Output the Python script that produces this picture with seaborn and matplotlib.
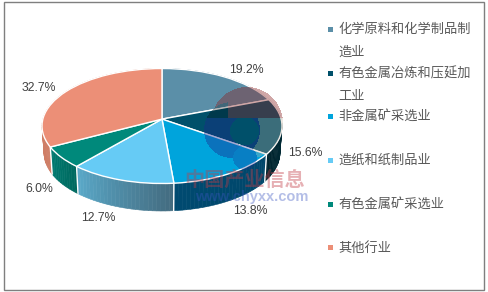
import numpy as np
import matplotlib
matplotlib.use('Agg')
import matplotlib.pyplot as plt
import seaborn as sns
from matplotlib.patches import Rectangle
from matplotlib.transforms import Transform

# datos
categorias = ['化学原料和化学制品制\n造业', '有色金属冶炼和压延加\n工业', '非金属矿采选业',
              '造纸和纸制品业', '有色金属矿采选业', '其他行业']
valores = [19.2, 15.6, 13.8, 12.7, 6.0, 32.7]
colores = ['#5b8fa8', '#00506a', '#00a4dc', '#66cbf5', '#00897b', '#ec8f77']
lados = [('#4a7a90', '#3f6c80'), ('#00242e', '#00303c'), ('#004a70', '#00466a'),
         ('#5aa8c8', '#436c80'), ('#007a70', '#00695f'), ('#cf7e66', '#cf7e66')]

sns.set_theme(style='white')
plt.rcParams['font.family'] = ['Liberation Sans', 'Noto Sans CJK SC']

# geometria de la tarta en pixeles
CX, CY, RX, RY, APEX = 162, 126, 120, 57.5, 0.12
BY, BRX, BRY = 153, 118, 58


def perspectiva(v):
    x, y = v[:, 0], v[:, 1]
    d = 1 + APEX * y
    return np.sqrt(1 - APEX ** 2) * x / d, (y + APEX) / d


class Tarta(Transform):
    input_dims = output_dims = 2

    def transform_non_affine(self, values):
        x, y = perspectiva(np.asarray(values, float))
        return np.column_stack([CX + RX * x, CY - RY * y])


fig = plt.figure(figsize=(4.88, 2.92), dpi=100)
ax = fig.add_axes([0, 0, 1, 1])

wedges, _ = ax.pie(valores, colors=colores, startangle=90, counterclock=False,
                   wedgeprops={'edgecolor': 'white', 'linewidth': 1.0})
for w in wedges:
    w.set_transform(Tarta() + ax.transData)
    w.set_zorder(3)

# pared lateral, en tiras con degradado
inicio = 0
for v, par in zip(valores, lados):
    n = max(int(v * 2), 2)
    ang = np.radians(90 - np.linspace(inicio, inicio + v, n + 1) * 3.6)
    ux, uy = perspectiva(np.column_stack([np.cos(ang), np.sin(ang)]))
    xt, yt = CX + RX * ux, CY - RY * uy
    xb, yb = CX + BRX * ux, BY - BRY * uy
    # el degradado va de izquierda a derecha en pantalla
    pal = sns.blend_palette(par, n)
    if xt[0] > xt[-1]:
        pal = pal[::-1]
    for i in range(n):
        ax.fill([xt[i], xt[i + 1], xb[i + 1], xb[i]], [yt[i], yt[i + 1], yb[i + 1], yb[i]],
                color=pal[i], lw=0.4, zorder=1)
    if uy[-1] < 0:
        ax.plot([xt[-1], xb[-1]], [yt[-1], yb[-1]], color='white', lw=1.0, zorder=2)
    inicio += v

# etiquetas
pos_etiquetas = [(246, 70), (305, 153), (250, 211), (98, 218), (39, 189), (39, 88)]
for v, (x, y) in zip(valores, pos_etiquetas):
    ax.text(x, y, f'{v:.1f}%', ha='center', va='center', fontsize=8.8, color='#404040', zorder=6)

# leyenda
pos_leyenda = [29, 73, 116, 160, 204, 247]
for c, col, y in zip(categorias, colores, pos_leyenda):
    ax.add_patch(Rectangle((328, y - 2.5), 5, 5, color=col, lw=0))
    for k, linea in enumerate(c.split('\n')):
        ax.text(338, y + 1 + k * 23, linea, ha='left', va='center', fontsize=9.5, color='#595959')

# marca de agua: logo de circulos solapados
X, Y = np.meshgrid(np.arange(488) + 0.5, np.arange(292) + 0.5)


def circulo(cx, cy, r):
    return (X - cx) ** 2 + (Y - cy) ** 2 < r ** 2


R = circulo(247, 123, 36)
B = circulo(232, 130, 28)
H = circulo(244.5, 131, 14.5)
E = circulo(245, 158, 12)
alto = Y < 118
capa = np.zeros((292, 488, 4))
capa[R & alto] = (138 / 255, 35 / 255, 35 / 255, 0.40)
capa[R & ~alto] = (200 / 255, 180 / 255, 160 / 255, 0.30)
capa[B & ~alto] = (30 / 255, 40 / 255, 140 / 255, 0.40)
capa[B & alto & (X < 228)] = (0, 0, 0, 0.28)
capa[E] = (30 / 255, 40 / 255, 140 / 255, 0.30)
capa[H & ~alto] = 0
ax.imshow(capa, extent=(0, 488, 292, 0), aspect='auto', interpolation='bilinear', zorder=4)

ax.text(245, 180, '中国产业信息', ha='center', va='center', fontsize=14.5, fontweight='bold',
        color='#c23b45', alpha=0.4, zorder=5)
ax.text(252, 197, 'www.chyxx.com', ha='center', va='center', fontsize=10.5, fontweight='bold',
        color='#3a55c0', alpha=0.38, zorder=5)

# marco
ax.add_patch(Rectangle((4, 1.5), 480, 288, fill=False, edgecolor='#7f7f7f', lw=1.0, zorder=7))

ax.set_aspect('auto')
ax.set_xlim(0, 488)
ax.set_ylim(292, 0)

fig.savefig('out.png', dpi=100)
